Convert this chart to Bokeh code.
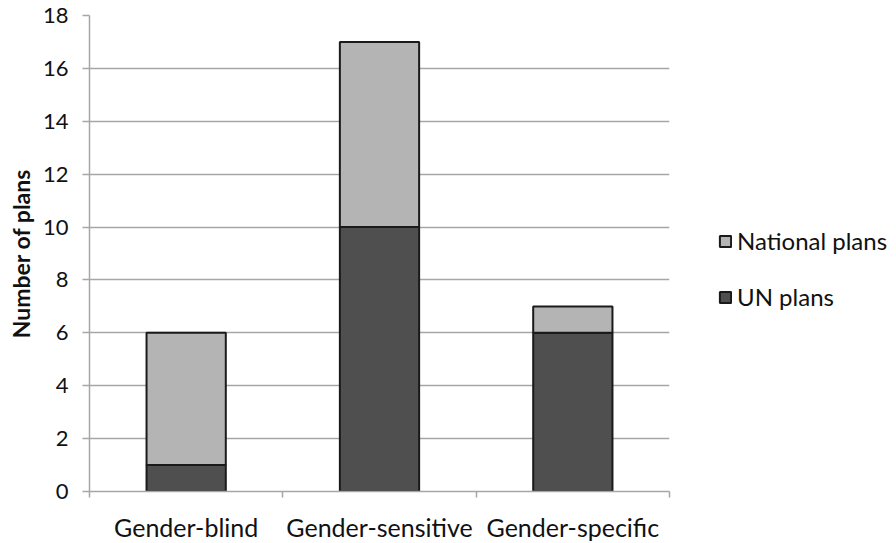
from bokeh.plotting import figure
from bokeh.models import ColumnDataSource, FixedTicker, Legend, LegendItem, Range1d
from bokeh.embed import file_html
from bokeh.resources import INLINE

categories = ["Gender-blind", "Gender-sensitive", "Gender-specific"]
un_plans = [1, 10, 6]
national_plans = [5, 7, 1]
series = ["un", "national"]
series_labels = ["UN plans", "National plans"]
colors = ["#4f4f4f", "#b4b4b4"]
y_ticks = list(range(0, 19, 2))

xpos = [i + 0.5 for i in range(len(categories))]
src = ColumnDataSource(dict(x=xpos, un=un_plans, national=national_plans))

FONT = "Lato"

p = figure(frame_width=580, frame_height=476, output_backend="svg", toolbar_location=None,
           x_range=Range1d(0, len(categories)), y_range=Range1d(0, 18),
           min_border_left=89, min_border_right=2, min_border_top=15, min_border_bottom=40)

renderers = p.vbar_stack(series, x="x", width=0.41, source=src, color=colors,
                         line_color="#1a1a1a", line_width=2)

p.outline_line_color = None
p.xgrid.grid_line_color = None
p.ygrid.grid_line_color = "#a6a6a6"
p.ygrid.grid_line_width = 1.5
p.yaxis.ticker = FixedTicker(ticks=y_ticks)
p.xaxis.ticker = FixedTicker(ticks=xpos, minor_ticks=list(range(len(categories) + 1)))
p.xaxis.major_label_overrides = {x: c for x, c in zip(xpos, categories)}

for ax in (p.xaxis[0], p.yaxis[0]):
    ax.axis_line_color = "#a6a6a6"
    ax.axis_line_width = 1.5
    ax.major_label_text_font = FONT
    ax.major_label_text_color = "#111111"

p.yaxis.major_label_text_font_size = "22px"
p.xaxis.major_label_text_font_size = "25px"

p.yaxis.major_tick_line_color = "#a6a6a6"
p.yaxis.major_tick_line_width = 1.5
p.yaxis.major_tick_out = 7
p.yaxis.major_tick_in = 0
p.yaxis.minor_tick_line_color = None
p.yaxis.major_label_standoff = 14
p.yaxis.axis_label = "Number of plans"
p.yaxis.axis_label_text_font = FONT
p.yaxis.axis_label_text_font_style = "bold"
p.yaxis.axis_label_text_font_size = "23px"
p.yaxis.axis_label_text_color = "#111111"
p.yaxis.axis_label_standoff = 5

p.xaxis.major_tick_line_color = None
p.xaxis.major_tick_out = 0
p.xaxis.major_tick_in = 0
p.xaxis.minor_tick_line_color = "#a6a6a6"
p.xaxis.minor_tick_line_width = 1.5
p.xaxis.minor_tick_out = 6
p.xaxis.minor_tick_in = 0
p.xaxis.major_label_standoff = 14

items = [LegendItem(label=lab, renderers=[r]) for lab, r in zip(series_labels, renderers)][::-1]
legend = Legend(items=items, location=(49, 180), orientation="vertical",
                label_text_font=FONT, label_text_font_size="24px", label_text_color="#111111",
                glyph_width=14, glyph_height=14, label_standoff=5, spacing=27,
                border_line_color=None, background_fill_alpha=0, margin=0, padding=4)
p.add_layout(legend, "right")

open("out.html", "w").write(file_html(p, INLINE))
